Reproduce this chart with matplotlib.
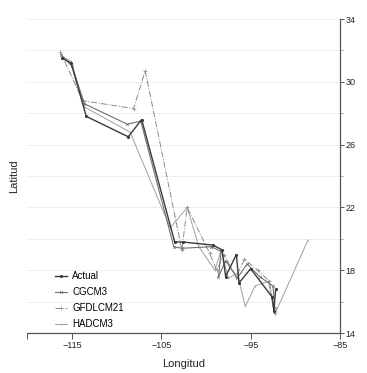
import matplotlib
matplotlib.use("Agg")
import matplotlib.pyplot as plt
from matplotlib.ticker import MultipleLocator

actual_lon = [-116.1, -115.1, -113.4, -108.7, -107.2, -103.5, -102.6, -99.2, -98.2, -97.8, -96.6, -96.3, -95.0, -92.6, -92.4, -92.2]
actual_lat = [31.5, 31.2, 27.8, 26.5, 27.6, 19.8, 19.8, 19.6, 19.3, 17.6, 19.0, 17.2, 18.1, 16.3, 15.4, 16.8]

cgcm3_lon = [-116.2, -115.0, -113.6, -108.8, -107.3, -103.6, -102.7, -99.4, -98.3, -98.6, -97.8, -96.5, -95.4, -94.0, -92.5, -92.3]
cgcm3_lat = [31.7, 31.0, 28.6, 27.3, 27.5, 19.5, 19.4, 19.5, 19.2, 17.6, 18.6, 17.5, 18.4, 17.6, 17.0, 15.6]

gfdl_lon = [-116.3, -113.8, -108.1, -106.8, -102.7, -102.1, -99.6, -98.8, -98.0, -96.6, -95.7, -94.2, -92.9, -92.3]
gfdl_lat = [31.9, 28.8, 28.3, 30.7, 19.3, 22.0, 19.1, 18.0, 19.0, 17.6, 18.7, 18.0, 17.3, 15.3]

hadcm3_lon = [-116.0, -115.1, -113.6, -108.5, -104.0, -102.1, -100.8, -99.0, -98.3, -97.5, -96.5, -95.6, -94.5, -93.0, -92.3, -88.6]
hadcm3_lat = [31.6, 31.3, 28.4, 26.8, 20.7, 22.0, 19.5, 18.0, 19.3, 17.5, 17.8, 15.7, 17.0, 17.3, 15.2, 19.9]

x_ticks = [-120, -115, -105, -95, -85]
x_ticklabels = ["", "\u2212115", "\u2212105", "\u221295", "\u221285"]
y_ticks = [14, 18, 22, 26, 30, 34]

plt.rcParams['font.family'] = ['Liberation Sans', 'DejaVu Sans']

fig = plt.figure(figsize=(3.67, 3.73), dpi=100)
ax = fig.add_axes([0.0744, 0.107, 0.852, 0.842])

for y in range(16, 35, 2):
    ax.axhline(y, color='#d0d0d0', lw=0.6, ls=(0, (1, 1.5)), zorder=0)

ax.plot(actual_lon, actual_lat, color='#3a3a3a', lw=1.0, marker='.', ms=2.5, label='Actual', zorder=4)
ax.plot(cgcm3_lon, cgcm3_lat, color='#707070', lw=0.8, marker='x', ms=2, mew=0.5, label='CGCM3', zorder=3)
ax.plot(gfdl_lon, gfdl_lat, color='#8a8a8a', lw=0.7, ls='-.', marker='+', ms=2.5, mew=0.5, label='GFDLCM21', zorder=2)
ax.plot(hadcm3_lon, hadcm3_lat, color='#a0a0a0', lw=0.7, marker='|', ms=2, mew=0.5, label='HADCM3', zorder=1)

ax.set_xlim(-120, -85)
ax.set_ylim(14, 34)
ax.set_xticks(x_ticks)
ax.set_xticklabels(x_ticklabels)
ax.set_yticks(y_ticks)
ax.yaxis.set_minor_locator(MultipleLocator(2))
ax.yaxis.tick_right()
ax.yaxis.set_label_position('left')

for s in ['left', 'top']:
    ax.spines[s].set_visible(False)
for s in ['right', 'bottom']:
    ax.spines[s].set_color('#555555')
    ax.spines[s].set_linewidth(0.9)

ax.tick_params(axis='x', labelsize=6.5, length=4, width=0.7, colors='#555555', labelcolor='#222222', pad=2)
ax.tick_params(axis='y', which='major', labelsize=6.5, length=3, width=0.7, colors='#555555', labelcolor='#222222', pad=1)
ax.tick_params(axis='y', which='minor', length=2, width=0.5, colors='#888888')

ax.set_xlabel('Longitud', fontsize=8, color='#222222', labelpad=6)
ax.set_ylabel('Latitud', fontsize=8, color='#222222', labelpad=6)

leg = ax.legend(loc='lower left', bbox_to_anchor=(0.06, -0.015), frameon=False, fontsize=7,
                handlelength=1.3, labelspacing=0.62, handletextpad=0.5)

fig.savefig('out.png', dpi=100)
